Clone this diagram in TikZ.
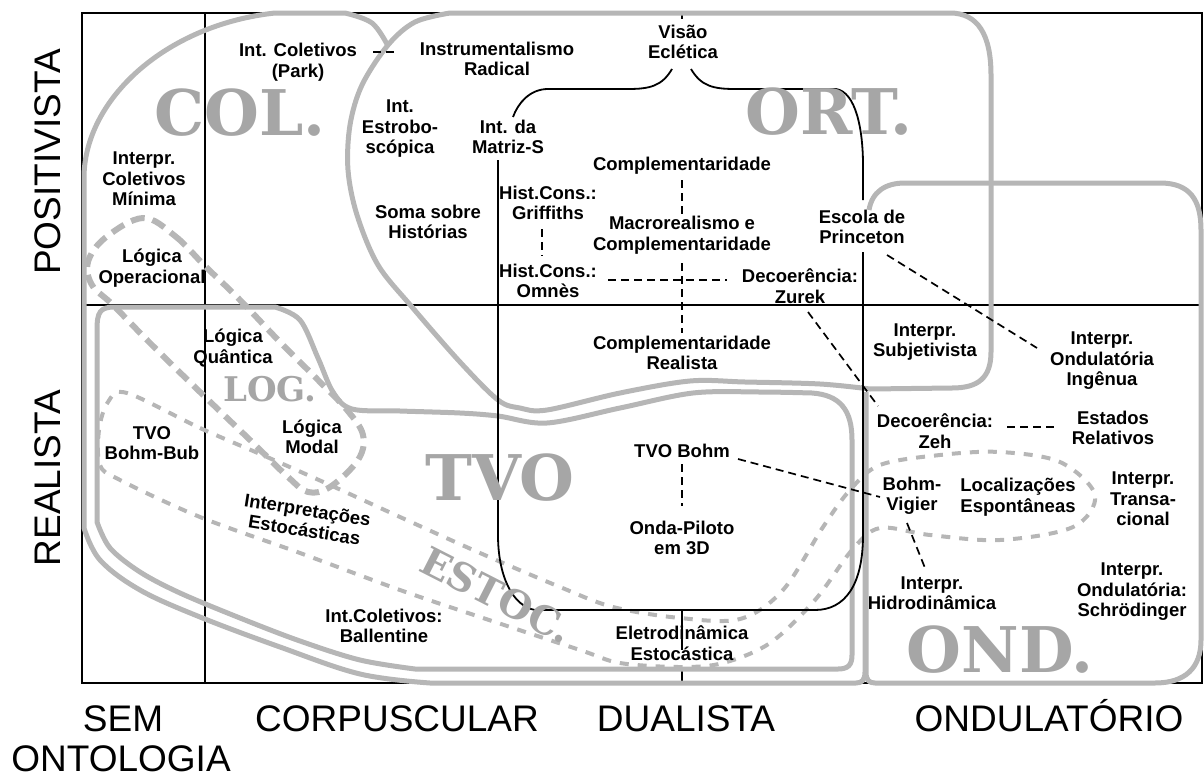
\documentclass[tikz,border=0pt]{standalone}
\usepackage{fontspec}
\setmainfont{Liberation Sans}
\newfontfamily\slabfont{DejaVu Serif}
\definecolor{linegray}{RGB}{182,182,182}
\definecolor{biggray}{RGB}{166,166,166}
\begin{document}
\begin{tikzpicture}[x=1pt,y=-1pt,
 lbl/.style={font=\fontsize{18.5}{20.5}\selectfont\bfseries, align=center, inner sep=0pt},
 big/.style={font=\slabfont\bfseries\fontsize{63}{63}\selectfont, text=biggray, inner sep=0pt},
 axislbl/.style={font=\fontsize{37}{40}\selectfont, inner sep=0pt},
 frameline/.style={line width=1.8pt, black},
 bline/.style={line width=1.8pt, black},
 blink/.style={line width=1.7pt, black, dash pattern=on 8pt off 5pt},
 gline/.style={line width=5pt, linegray, line join=round},
 gdashA/.style={line width=6pt, linegray, dash pattern=on 14pt off 8pt},
 gdashB/.style={line width=4pt, linegray, dash pattern=on 9pt off 9pt},
]
\useasboundingbox (0,0) rectangle (1204,779);

% ---------- frame ----------
\draw[frameline] (82,13) rectangle (1202,683);
\draw[frameline] (82,305) -- (1202,305);
\draw[frameline] (205,13) -- (205,683);
\draw[frameline] (682,13) -- (682,19);
\draw[frameline] (682,610) -- (682,650);
\draw[frameline] (682,667) -- (682,683);

% ---------- gray regions ----------
% ORT
\draw[gline] (950,13) .. controls (978,13) and (991,35) .. (991,75) -- (991,352)
  .. controls (991,378) and (978,388) .. (952,388)
  -- plot[smooth,tension=0.55] coordinates {(870,389) (820,384) (745,382) (690,381) (620,393) (547,410) (520,408) (498,400) (460,362) (412,307) (378,265) (357,215) (348,170) (350,125) (362,85) (388,45) (415,22) (450,13)} -- cycle;
% COL
\draw[gline] plot[smooth,tension=0.6] coordinates {(388,46) (372,23) (345,13)} -- (275,13)
  .. controls (165,25) and (84,100) .. (84,178) -- (84,525)
  -- plot[smooth,tension=0.6] coordinates {(84,528) (100,560) (140,590) (200,617) (280,647) (360,674) (430,683)}
  -- (856,683) .. controls (862,683) and (865,680) .. (865,672) -- (865,392);
% TVO
\draw[gline] (97,330) .. controls (97,312) and (100,307) .. (115,307) -- (275,307)
  -- plot[smooth,tension=0.55] coordinates {(275,307) (300,320) (318,358) (333,392) (352,409) (400,411) (460,413) (498,416) (547,423) (620,408) (693,393) (760,392) (812,393)}
  .. controls (840,395) and (852,410) .. (852,440) -- (852,655)
  .. controls (852,665) and (848,669) .. (838,669) -- (415,669)
  -- plot[smooth,tension=0.55] coordinates {(415,669) (360,660) (300,641) (240,618) (180,593) (140,572) (110,548) (97,522)} -- cycle;
% OND
\draw[gline] (869,210) .. controls (872,192) and (885,183) .. (905,183) -- (1160,183)
  .. controls (1190,183) and (1201,200) .. (1201,230) -- (1201,640)
  .. controls (1201,668) and (1185,683) .. (1155,683) -- (875,683)
  .. controls (869,683) and (866,680) .. (866,672) -- (866,392);
% LOG (thick dashed)
\draw[gdashA] plot[smooth cycle,tension=0.6] coordinates {(143,218) (175,236) (205,266) (240,300) (280,342) (318,380) (347,410) (363,435) (358,460) (330,487) (308,492) (288,477) (250,440) (200,392) (150,343) (113,305) (92,285) (88,262) (105,238)};
% ESTOC (thin dashed)
\draw[gdashB] plot[smooth cycle,tension=0.55] coordinates {(127,393) (200,428) (267,457) (330,485) (400,517) (480,553) (560,587) (613,607) (680,618) (740,619) (783,590) (823,527) (850,490) (880,465) (940,455) (1000,452) (1060,462) (1095,495) (1073,527) (1000,540) (930,535) (880,528) (852,550) (815,600) (770,643) (723,663) (680,667) (620,663) (580,650) (480,617) (400,590) (300,553) (200,517) (120,480) (100,465) (99,430) (108,402)};

% ---------- black bracket lines ----------
\draw[bline] (672,69) .. controls (662,86) and (650,89) .. (628,89) -- (548,89) .. controls (530,89) and (518,103) .. (513,117);
\draw[bline] (691,69) .. controls (701,86) and (713,89) .. (735,89) -- (836,89) .. controls (856,92) and (863,130) .. (863,165) -- (863,200);
\draw[bline] (863,252) -- (863,535) .. controls (863,585) and (845,610) .. (815,610) -- (535,610) .. controls (512,606) and (498,575) .. (498,535) -- (498,160);

% ---------- big gray labels ----------
\node[big] (col) at (240,113) {COL.};
\node[big] (ort) at (829,112) {ORT.};
\node[big] (tvo) at (500,478) {TVO};
\node[big] (ond) at (1000,650) {OND.};
\node[big, font=\slabfont\bfseries\fontsize{34}{34}\selectfont] (log) at (270,389) {LOG.};
\node[big, font=\slabfont\bfseries\fontsize{39}{39}\selectfont, rotate=-27] (estoc) at (497,595) {ESTOC.};

% ---------- labels ----------
\node[lbl] (park) at (298,62) {Int. Coletivos\\(Park)};
\node[lbl] (instr) at (497,59) {Instrumentalismo\\Radical};
\node[lbl] (vis) at (683,42) {Visão\\Eclética};
\node[lbl] (estro) at (400,129) {Int.\\Estrobo-\\scópica};
\node[lbl] (matriz) at (508,137) {Int. da\\Matriz-S};
\node[lbl] (comp) at (682,166) {Complementaridade};
\node[lbl] (grif) at (548,203) {Hist.Cons.:\\Griffiths};
\node[lbl] (soma) at (428,222) {Soma sobre\\Histórias};
\node[lbl] (macro) at (682,235) {Macrorealismo e\\Complementaridade};
\node[lbl] (omnes) at (548,281) {Hist.Cons.:\\Omnès};
\node[lbl] (zurek) at (800,286) {Decoerência:\\Zurek};
\node[lbl] (princ) at (862,227) {Escola de\\Princeton};
\node[lbl] (mini) at (144,179) {Interpr.\\Coletivos\\Mínima};
\node[lbl] (logop) at (152,268) {Lógica\\Operacional};
\node[lbl] (compreal) at (682,353) {Complementaridade\\Realista};
\node[lbl] (subj) at (925,342) {Interpr.\\Subjetivista};
\node[lbl] (ingen) at (1102,361) {Interpr.\\Ondulatória\\Ingênua};
\node[lbl] (zeh) at (935,431) {Decoerência:\\Zeh};
\node[lbl] (estados) at (1113,428) {Estados\\Relativos};
\node[lbl] (lquant) at (233,348) {Lógica\\Quântica};
\node[lbl] (lmodal) at (312,437) {Lógica\\Modal};
\node[lbl] (bohmbub) at (152,443) {TVO\\Bohm-Bub};
\node[lbl] (tvobohm) at (682,451) {TVO Bohm};
\node[lbl] (vigier) at (912,496) {Bohm-\\Vigier};
\node[lbl] (local) at (1018,497) {Localizações\\Espontâneas};
\node[lbl] (transa) at (1143,499) {Interpr.\\Transa-\\cional};
\node[lbl] (piloto) at (682,538) {Onda-Piloto\\em 3D};
\node[lbl] (hidro) at (932,593) {Interpr.\\Hidrodinâmica};
\node[lbl] (schrod) at (1132,592) {Interpr.\\Ondulatória:\\Schrödinger};
\node[lbl] (eletro) at (682,643) {Eletrodinâmica\\Estocástica};
\node[lbl] (ballen) at (384,626) {Int.Coletivos:\\Ballentine};
\node[lbl, rotate=-9] (interpest) at (306,520) {Interpretações\\Estocásticas};

% ---------- dashed links ----------
\draw[blink] (373,52) -- (397,52);
\draw[blink] (682,180) -- (682,214);
\draw[blink] (682,263) -- (682,333);
\draw[blink] (542,229) -- (542,256);
\draw[blink] (608,280) -- (727,280);
\draw[blink] (887,255) -- (1037,348);
\draw[blink] (808,312) -- (878,406);
\draw[blink] (1007,427) -- (1056,427);
\draw[blink] (738,459) -- (880,497);
\draw[blink] (907,523) -- (925,568);
\draw[blink] (682,464) -- (682,506);

% ---------- axis labels ----------
\node[axislbl, rotate=90] (pos) at (48,162) {POSITIVISTA};
\node[axislbl, rotate=90] (rea) at (48,478) {REALISTA};
\node[axislbl, anchor=base] (sem) at (123,731) {SEM};
\node[axislbl, anchor=base] (onto) at (121,771) {ONTOLOGIA};
\node[axislbl, anchor=base] (corp) at (397,731) {CORPUSCULAR};
\node[axislbl, anchor=base] (dual) at (686,731) {DUALISTA};
\node[axislbl, anchor=base] (ondu) at (1049,731) {ONDULATÓRIO};
\end{tikzpicture}
\end{document}
